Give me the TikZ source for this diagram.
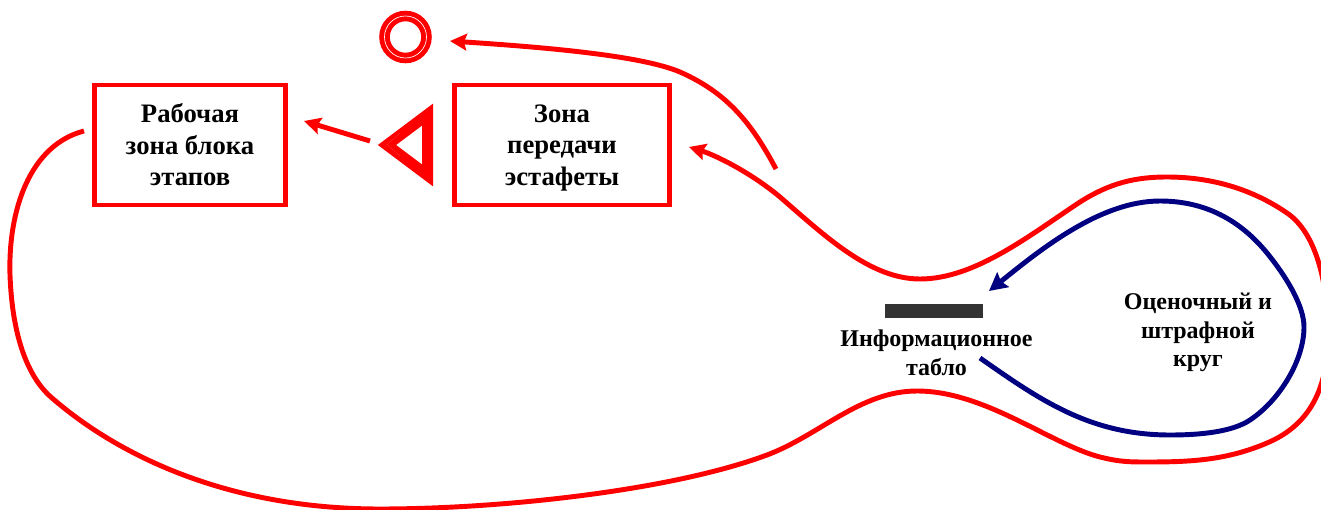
\documentclass[tikz,border=0pt]{standalone}
\usepackage{fontspec}
\setmainfont{Liberation Serif}
\usetikzlibrary{shapes.geometric, arrows.meta, positioning}
\definecolor{trackcolor}{RGB}{255, 0, 0}
\definecolor{loopcolor}{RGB}{0, 0, 128}
\definecolor{boardcolor}{RGB}{51, 51, 51}

\begin{document}
\begin{tikzpicture}[
    x=0.75pt, y=-0.75pt,
    zone/.style={draw=trackcolor, line width=3.7pt, minimum width=145pt, minimum height=90pt, align=center, font=\fontsize{20}{23.6}\selectfont\bfseries},
    caption/.style={align=center, font=\fontsize{18}{21.6}\selectfont\bfseries},
    track/.style={draw=trackcolor, line width=3.7pt, -{Stealth[length=12.5pt, width=12.5pt, inset=2pt]}},
    penalty/.style={draw=loopcolor, line width=3.7pt, -{Stealth[length=13.5pt, width=14pt, inset=2pt]}},
    target/.style={draw=trackcolor, circle, line width=3.7pt, double=white, double distance=0.5pt, outer sep=0pt, inner sep=0pt, minimum size=31.5pt},
    wedge/.style={draw=trackcolor, isosceles triangle, shape border rotate=180, isosceles triangle stretches, line width=8.2pt, miter limit=10, outer sep=0pt, inner sep=0pt, minimum height=30.4pt, minimum width=45.6pt}
]
    \useasboundingbox (0,0) rectangle (1321,510);

    % Zones
    \node[zone, minimum width=143.5pt] (workzone) at (190, 145) {Рабочая\\зона блока\\этапов};
    \node[zone, minimum width=161.5pt] (relayzone) at (562, 145) {Зона\\передачи\\\smash{эстафеты}};

    % Marks
    \node[target] (ring) at (405.5, 37) {};
    \node[wedge, anchor=apex] (corner) at (387, 145) {};
    \node[fill=boardcolor, inner sep=0pt, minimum width=73.5pt, minimum height=10.5pt] (board) at (934, 311) {};
    \draw[draw=trackcolor!80, line width=0.25pt] (400, 133) -- (387, 144.5) -- (400, 156);

    % Captions
    \node[caption] (boardtext) at (936.5, 352.5) {Информационное\\табло};
    \node[caption] (looptext) at (1198, 332.5) {Оценочный и\\штрафной\\круг};

    % Free ends
    \coordinate (trackstart) at (84, 131);
    \coordinate (trackend) at (689, 147);
    \coordinate (forkstart) at (776, 169);
    \coordinate (ringend) at (450, 41);
    \coordinate (loopstart) at (980, 358);
    \coordinate (loopend) at (989, 291);
    \coordinate (cornerout) at (370, 141);
    \coordinate (workend) at (304, 121);

    % Connections
    \draw[track] (trackstart) .. controls (30, 145) and (8, 210) .. (10, 275)
        .. controls (12, 330) and (25, 375) .. (52, 398)
        .. controls (120, 457) and (230, 509) .. (380, 509)
        .. controls (500, 509) and (670, 491) .. (767, 455)
        .. controls (820, 435) and (860, 391) .. (917, 391)
        .. controls (985, 391) and (1050, 444) .. (1100, 457)
        .. controls (1120, 462) and (1130, 462) .. (1147, 462)
        .. controls (1190, 462) and (1226, 460.5) .. (1267, 443)
        .. controls (1305, 427) and (1328, 395) .. (1328, 335)
        .. controls (1328, 280) and (1315, 232) .. (1287, 213)
        .. controls (1255, 191) and (1215, 177) .. (1167, 177)
        .. controls (1135, 177) and (1110, 183) .. (1080, 202)
        .. controls (1030, 235) and (975, 279) .. (920, 279)
        .. controls (870, 279) and (825, 236) .. (780, 197)
        .. controls (750, 172) and (715, 155) .. (trackend);
    \draw[track] (forkstart) .. controls (750, 120) and (725, 92) .. (680, 72)
        .. controls (640, 55) and (540, 47) .. (ringend);
    \draw[track] (cornerout) -- (workend);
    \draw[penalty] (loopstart) .. controls (1040, 400) and (1090, 435) .. (1170, 435)
        .. controls (1200, 435) and (1232, 432) .. (1250, 420)
        .. controls (1280, 400) and (1304, 360) .. (1304, 327)
        .. controls (1304, 305) and (1285, 275) .. (1267, 253)
        .. controls (1240, 220) and (1205, 201) .. (1160, 201)
        .. controls (1100, 201) and (1040, 250) .. (loopend);
\end{tikzpicture}
\end{document}
